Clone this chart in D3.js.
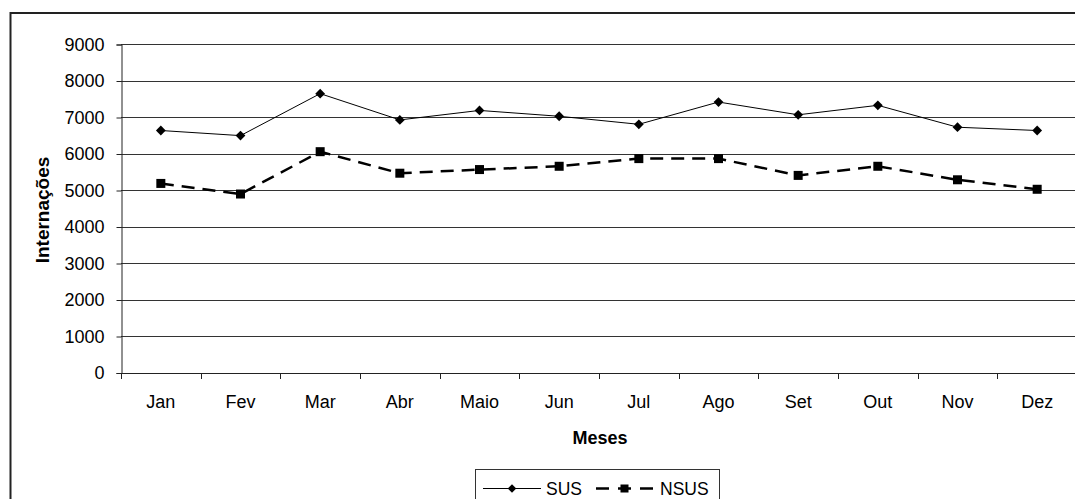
<!DOCTYPE html>
<html>
<head>
<meta charset="utf-8">
<script src="https://cdn.jsdelivr.net/npm/d3@7/dist/d3.min.js"></script>
<style>
  html, body { margin: 0; padding: 0; background: #fff; }
  svg { display: block; font-family: "Liberation Sans", Arial, sans-serif; }
</style>
</head>
<body>
<svg id="chart" width="1075" height="499"></svg>
<script>
// Monthly hospital admissions (internações), SUS vs non-SUS
const months = ["Jan", "Fev", "Mar", "Abr", "Maio", "Jun", "Jul", "Ago", "Set", "Out", "Nov", "Dez"];
const sus  = [6630, 6490, 7640, 6920, 7180, 7020, 6800, 7410, 7060, 7320, 6720, 6630];
const nsus = [5180, 4890, 6050, 5460, 5560, 5650, 5860, 5860, 5400, 5650, 5280, 5020];
const yTicks = [0, 1000, 2000, 3000, 4000, 5000, 6000, 7000, 8000, 9000];
const seriesNames = ["SUS", "NSUS"];

const svg = d3.select("#chart");

// outer chart frame
svg.append("rect")
  .attr("x", 10.5).attr("y", 13)
  .attr("width", 1090).attr("height", 520)
  .attr("fill", "none").attr("stroke", "#222").attr("stroke-width", 2);

const plotLeft = 121, plotRight = 1077, plotTop = 44, plotBottom = 372.5;

const x = d3.scaleBand().domain(months).range([plotLeft, plotRight]).padding(0);
const y = d3.scaleLinear().domain([0, 9000]).range([plotBottom, plotTop]);

// horizontal gridlines
svg.append("g")
  .selectAll("line")
  .data(yTicks.filter(d => d > 0))
  .join("line")
  .attr("x1", plotLeft).attr("x2", plotRight)
  .attr("y1", d => Math.round(y(d)) + 0.5)
  .attr("y2", d => Math.round(y(d)) + 0.5)
  .attr("stroke", "#333").attr("stroke-width", 1);

// y axis
const yAxis = d3.axisLeft(y).tickValues(yTicks).tickSize(5).tickPadding(12).tickFormat(d3.format("d"));
const gy = svg.append("g").attr("transform", `translate(${plotLeft + 0.5},0.5)`).call(yAxis);
gy.selectAll("text").attr("font-size", 18).attr("fill", "#000")
  .attr("font-family", "'Liberation Sans', Arial, sans-serif");
gy.selectAll("line, path").attr("stroke", "#222");

// x axis: ticks at category boundaries, labels centred in each band
const bounds = d3.range(months.length + 1).map(i => plotLeft + i * x.bandwidth());
const gx = svg.append("g");
gx.append("line")
  .attr("x1", plotLeft).attr("x2", plotRight)
  .attr("y1", Math.round(plotBottom) + 0.5).attr("y2", Math.round(plotBottom) + 0.5)
  .attr("stroke", "#222");
gx.selectAll("line.tick")
  .data(bounds)
  .join("line")
  .attr("class", "tick")
  .attr("x1", d => Math.round(d) + 0.5).attr("x2", d => Math.round(d) + 0.5)
  .attr("y1", Math.round(plotBottom)).attr("y2", Math.round(plotBottom) + 6)
  .attr("stroke", "#222");
gx.selectAll("text")
  .data(months)
  .join("text")
  .attr("x", d => x(d) + x.bandwidth() / 2)
  .attr("y", 408)
  .attr("text-anchor", "middle")
  .attr("font-size", 18)
  .text(d => d);

// axis titles
svg.append("text")
  .attr("x", 600).attr("y", 444)
  .attr("text-anchor", "middle")
  .attr("font-size", 18).attr("font-weight", "bold")
  .text("Meses");
svg.append("text")
  .attr("transform", "translate(49,210) rotate(-90)")
  .attr("text-anchor", "middle")
  .attr("font-size", 19).attr("font-weight", "bold")
  .text("Internações");

const cx = d => x(d) + x.bandwidth() / 2;
const line = d3.line().x((d, i) => cx(months[i])).y(d => y(d));

// SUS: thin solid line with diamonds
svg.append("path")
  .datum(sus)
  .attr("d", line)
  .attr("fill", "none").attr("stroke", "#000").attr("stroke-width", 1);
svg.append("g").selectAll("path")
  .data(sus)
  .join("path")
  .attr("transform", (d, i) => `translate(${cx(months[i])},${y(d)}) rotate(45)`)
  .attr("d", d3.symbol().type(d3.symbolSquare).size(48))
  .attr("fill", "#000");

// NSUS: thick dashed line with squares
svg.append("path")
  .datum(nsus)
  .attr("d", line)
  .attr("fill", "none").attr("stroke", "#000").attr("stroke-width", 2.5)
  .attr("stroke-dasharray", "13,8");
svg.append("g").selectAll("rect")
  .data(nsus)
  .join("rect")
  .attr("x", (d, i) => cx(months[i]) - 4.5)
  .attr("y", d => y(d) - 4.5)
  .attr("width", 9).attr("height", 9)
  .attr("fill", "#000");

// legend
const lg = svg.append("g");
lg.append("rect")
  .attr("x", 475.5).attr("y", 469.5)
  .attr("width", 244).attr("height", 40)
  .attr("fill", "#fff").attr("stroke", "#333").attr("stroke-width", 1);
const ly = 488.5;
lg.append("line").attr("x1", 483).attr("x2", 541).attr("y1", ly).attr("y2", ly)
  .attr("stroke", "#000").attr("stroke-width", 1);
lg.append("path")
  .attr("transform", `translate(512,${ly}) rotate(45)`)
  .attr("d", d3.symbol().type(d3.symbolSquare).size(36))
  .attr("fill", "#000");
lg.append("text").attr("x", 546).attr("y", ly + 6.5)
  .attr("font-size", 17.5).text(seriesNames[0]);
lg.append("line").attr("x1", 596).attr("x2", 655).attr("y1", ly).attr("y2", ly)
  .attr("stroke", "#000").attr("stroke-width", 2.5).attr("stroke-dasharray", "13,9");
lg.append("rect").attr("x", 620.5).attr("y", ly - 4).attr("width", 8).attr("height", 8).attr("fill", "#000");
lg.append("text").attr("x", 660).attr("y", ly + 6.5)
  .attr("font-size", 17.5).text(seriesNames[1]);
</script>
</body>
</html>
